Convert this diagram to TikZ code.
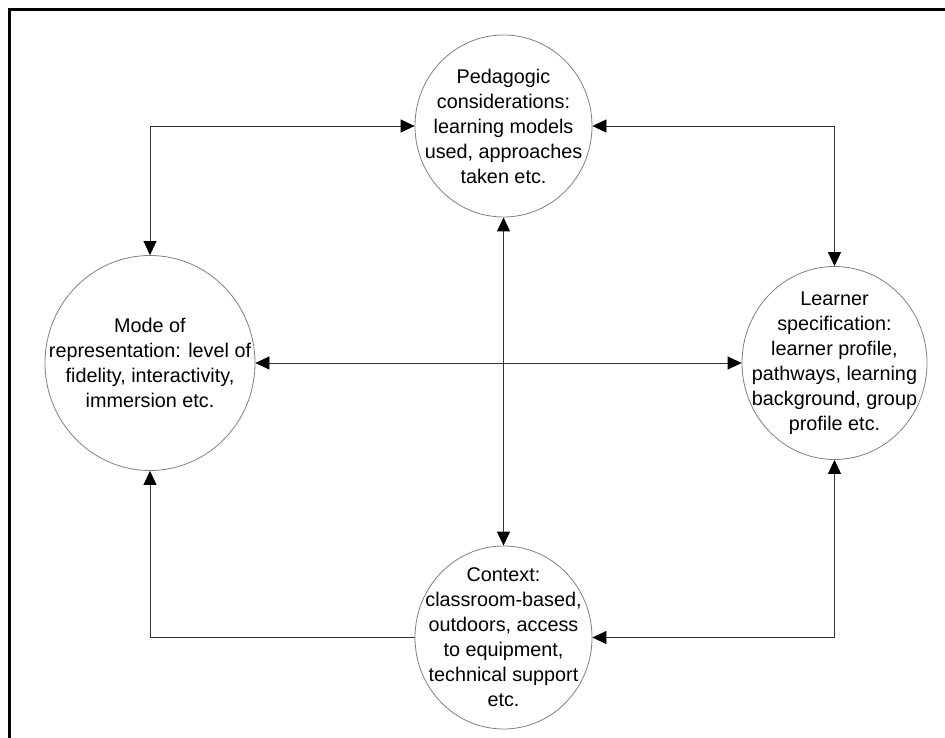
\documentclass[tikz,border=0pt]{standalone}
\usepackage{fontspec}
\setmainfont{Liberation Sans}
\usetikzlibrary{arrows.meta,shapes.geometric}
\begin{document}
\begin{tikzpicture}[x=1pt,y=-1pt,
  bubble/.style={ellipse, draw=black!50, line width=0.8pt, inner sep=0pt, fill=white},
  lbl/.style={align=center, font=\fontsize{19.8}{25}\selectfont, inner sep=0pt},
  conn/.style={draw=black!80, line width=0.8pt},
  tipend/.style={-{Triangle[length=14pt,width=13pt,color=black]}},
  tipboth/.style={{Triangle[length=14pt,width=13pt,color=black]}-{Triangle[length=14pt,width=13pt,color=black]}},
  frameline/.style={line width=2.6pt, draw=black}]
\useasboundingbox (0,0) rectangle (945,738);
% frame (top and left edges)
\coordinate (fbl) at (9.3,740);
\coordinate (ftl) at (9.3,9.3);
\coordinate (ftr) at (947,9.3);
\draw[frameline] (fbl) -- (ftl) -- (ftr);
% bubbles
\node[bubble, minimum width=177pt, minimum height=182pt,
  label={[lbl]center:Pedagogic\\considerations:\\learning models\\used, approaches\\taken etc.}]
  (ped) at (503.5,126) {};
\node[bubble, minimum width=210pt, minimum height=215pt,
  label={[lbl]center:Mode of\\representation: level of\\fidelity, interactivity,\\immersion etc.}]
  (mode) at (150,363) {};
\node[bubble, minimum width=185pt, minimum height=193pt,
  label={[lbl]center:Learner\\specification:\\learner profile,\\pathways, learning\\background, group\\profile etc.}]
  (learn) at (834.5,363) {};
\node[bubble, minimum width=177pt, minimum height=183pt,
  label={[lbl]center:Context:\\classroom-based,\\outdoors, access\\to equipment,\\technical support\\etc.}]
  (ctx) at (503.5,637.5) {};
% connectors
\draw[conn, tipboth] (ped.west) -| (mode.north);
\draw[conn, tipboth] (ped.east) -| (learn.north);
\draw[conn, tipboth] (mode.east) -- (learn.west);
\draw[conn, tipboth] (ped.south) -- (ctx.north);
\draw[conn, tipend] (ctx.west) -| (mode.south);
\draw[conn, tipboth] (ctx.east) -| (learn.south);
\end{tikzpicture}
\end{document}
